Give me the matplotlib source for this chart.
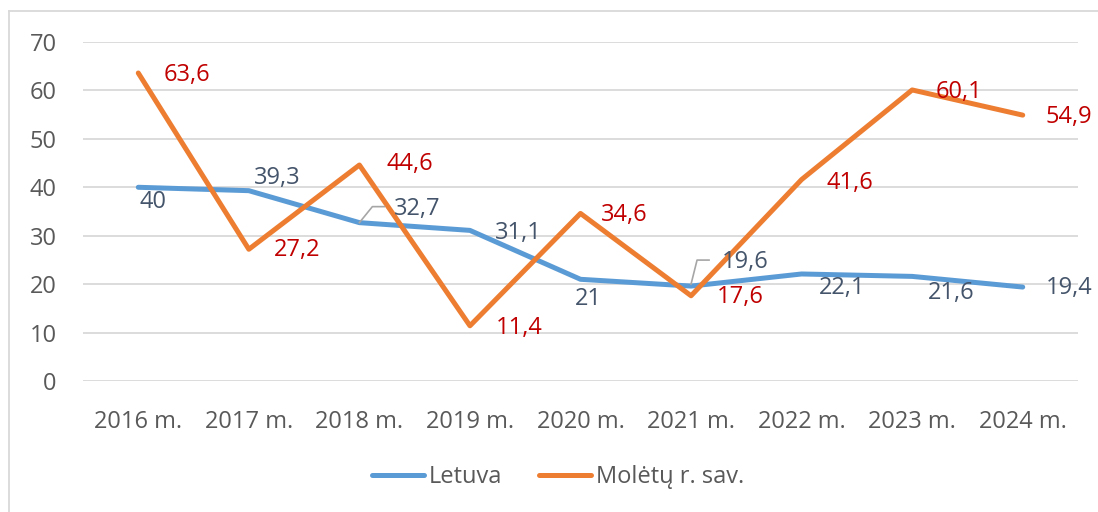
import matplotlib.pyplot as plt
from matplotlib.lines import Line2D

years = ["2016 m.", "2017 m.", "2018 m.", "2019 m.", "2020 m.",
         "2021 m.", "2022 m.", "2023 m.", "2024 m."]
letuva = [40, 39.3, 32.7, 31.1, 21, 19.6, 22.1, 21.6, 19.4]
moletai = [63.6, 27.2, 44.6, 11.4, 34.6, 17.6, 41.6, 60.1, 54.9]

# label offsets in pixels (dx, dy) from each point
letuva_off = [(15, -15), (28, 13), (58, 14), (48, -3), (8, -20),
              (54, 24), (41, -14), (39, -17), (46, -1)]
moletai_off = [(49, -2), (48, -1), (50, 1), (49, -2), (44, -2),
               (49, -1), (48, -3), (47, -2), (46, -2)]

plt.rcParams['font.family'] = ['Open Sans', 'DejaVu Sans']

W, H = 1098, 512
fig = plt.figure(figsize=(W / 100, H / 100), dpi=100)
ax = fig.add_axes([83 / W, 1 - 381 / H, (1078 - 83) / W, (381 - 42) / H])

x = list(range(len(years)))
blue = '#5B9BD5'
orange = '#ED7D31'
ax.plot(x, letuva, color=blue, linewidth=3.6, solid_capstyle='round', zorder=3)
ax.plot(x, moletai, color=orange, linewidth=3.6, solid_capstyle='round', zorder=4)

ax.set_xlim(-0.5, len(years) - 0.5)
ax.set_ylim(0, 70)
ax.set_yticks(range(0, 71, 10))
ax.set_xticks(x)
ax.set_xticklabels(years)
ax.grid(axis='y', color='#D9D9D9', linewidth=1.3)
ax.set_axisbelow(True)
for s in ax.spines.values():
    s.set_visible(False)
ax.tick_params(length=0, colors='#595959', labelsize=17)
ax.tick_params(axis='y', pad=19)
ax.tick_params(axis='x', pad=21)

def fmt(v):
    return (f"{v:g}").replace('.', ',')

for i, v in enumerate(letuva):
    dx, dy = letuva_off[i]
    ax.annotate(fmt(v), (i, v), xytext=(dx, dy), textcoords='offset pixels',
                ha='center', va='center', fontsize=17, color='#44546A', zorder=5)
for i, v in enumerate(moletai):
    dx, dy = moletai_off[i]
    ax.annotate(fmt(v), (i, v), xytext=(dx, dy), textcoords='offset pixels',
                ha='center', va='center', fontsize=17, color='#C00000', zorder=5)

# leader lines for 32,7 and 19,6
for i in (2, 5):
    px, py = ax.transData.transform((i, letuva[i]))
    xs = [px / W, (px + 13) / W, (px + 25) / W] if i == 2 else [px / W, (px + 6) / W, (px + 18) / W]
    ys = [py / H, (py + 16) / H, (py + 16) / H] if i == 2 else [(py + 2) / H, (py + 26) / H, (py + 26) / H]
    fig.add_artist(Line2D(xs, ys, color='#A6A6A6', linewidth=1.2, zorder=6))

handles = [Line2D([], [], color=blue, linewidth=3.6, solid_capstyle='round'),
           Line2D([], [], color=orange, linewidth=3.6, solid_capstyle='round')]
fig.legend(handles, ["Letuva", "Molėtų r. sav."], loc='center',
           bbox_to_anchor=(558 / W, 1 - 477 / H), ncol=2, frameon=False,
           fontsize=17, labelcolor='#595959', handlelength=2.2,
           handletextpad=0.2, columnspacing=1.6)

# outer frame (top and left edges visible)
fig.add_artist(Line2D([8.5 / W, 8.5 / W], [0, 1 - 10.5 / H], color='#D9D9D9', linewidth=1.3))
fig.add_artist(Line2D([8.5 / W, 1], [1 - 10.5 / H, 1 - 10.5 / H], color='#D9D9D9', linewidth=1.3))

fig.savefig('out.png', dpi=100, facecolor='white')
